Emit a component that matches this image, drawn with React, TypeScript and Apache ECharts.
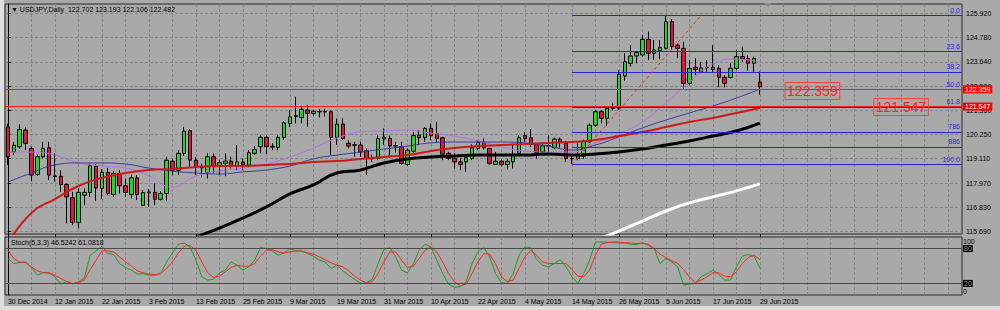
import React, { useEffect, useRef } from "react";
import * as echarts from "echarts";

const FONT = "'Liberation Sans', Arial, 'DejaVu Sans', sans-serif";

const dateLabels = [
  "30 Dec 2014", "12 Jan 2015", "22 Jan 2015", "3 Feb 2015", "13 Feb 2015", "25 Feb 2015",
  "9 Mar 2015", "19 Mar 2015", "31 Mar 2015", "10 Apr 2015", "22 Apr 2015", "4 May 2015",
  "14 May 2015", "26 May 2015", "5 Jun 2015", "17 Jun 2015", "29 Jun 2015",
];
const priceTicks = [115.69, 116.83, 117.97, 119.11, 120.25, 121.36, 122.5, 123.64, 124.78, 125.92];
const stochTicks = [0, 20, 80, 100];

const opens = [
  120.60, 119.43, 119.67, 120.45, 119.59, 118.37, 119.20, 119.62, 118.30, 118.29,
  117.90, 117.28, 116.12, 117.40, 117.53, 118.76, 117.72, 118.47, 117.43, 118.42,
  117.84, 117.43, 118.21, 116.93, 117.50, 117.53, 117.21, 117.48, 118.99, 118.57,
  119.36, 120.42, 119.04, 118.68, 118.45, 119.20, 118.76, 118.89, 118.99, 118.76,
  118.95, 118.81, 119.36, 119.67, 120.11, 119.65, 119.64, 120.11, 120.76, 121.09,
  121.04, 121.39, 121.23, 121.30, 121.32, 121.31, 120.11, 120.73, 119.83, 119.76,
  119.75, 119.48, 119.10, 119.13, 120.03, 120.06, 119.72, 119.67, 118.84, 119.46,
  120.22, 120.09, 120.53, 120.29, 120.09, 119.36, 119.12, 118.96, 118.96, 119.12,
  119.59, 119.87, 119.59, 118.84, 118.99, 118.84, 118.96, 119.36, 120.19, 120.09,
  119.78, 119.43, 119.70, 119.62, 120.03, 119.83, 119.10, 119.12, 119.23, 119.90,
  120.68, 121.31, 121.00, 121.46, 121.47, 122.98, 123.58, 123.92, 123.97, 124.70,
  124.05, 124.17, 124.28, 125.53, 124.43, 124.28, 122.64, 123.39, 123.18, 123.36,
  123.29, 123.34, 122.92, 122.92, 123.34, 123.89, 123.81, 123.58, 122.702,
];
const closes = [
  119.20, 119.74, 120.48, 119.83, 118.34, 119.20, 119.59, 118.34, 118.27, 117.90,
  117.32, 116.12, 117.53, 117.53, 118.78, 117.74, 118.47, 117.48, 118.42, 117.84,
  117.53, 118.21, 117.43, 117.53, 117.55, 117.21, 117.48, 119.04, 118.57, 119.36,
  120.40, 119.04, 118.73, 118.72, 119.20, 118.76, 118.92, 119.00, 118.76, 118.96,
  118.81, 119.39, 119.54, 120.11, 119.67, 119.69, 120.11, 120.79, 121.07, 121.13,
  121.42, 121.23, 121.33, 121.32, 121.30, 120.11, 120.73, 120.06, 119.70, 119.74,
  119.43, 119.12, 119.14, 120.05, 120.12, 119.71, 119.70, 118.89, 119.51, 120.19,
  120.09, 120.53, 120.19, 120.06, 119.32, 119.12, 118.96, 118.84, 119.15, 119.62,
  119.87, 119.62, 118.89, 118.99, 118.84, 118.99, 119.31, 120.09, 120.06, 119.78,
  119.40, 119.71, 119.72, 120.03, 119.90, 119.12, 119.12, 119.28, 119.93, 120.68,
  121.31, 121.00, 121.47, 121.48, 123.07, 123.65, 123.92, 124.08, 124.70, 124.05,
  124.20, 124.31, 125.53, 124.36, 124.28, 122.64, 123.34, 123.29, 123.36, 123.38,
  123.39, 122.92, 122.64, 123.34, 123.89, 123.78, 123.58, 123.81, 122.482,
];
const lows = [
  118.81, 119.28, 119.59, 119.51, 118.06, 118.30, 119.12, 118.10, 118.03, 117.56,
  116.08, 115.99, 115.84, 116.93, 117.32, 117.12, 117.21, 117.40, 117.32, 117.48,
  117.32, 117.25, 117.17, 116.90, 116.85, 116.93, 117.15, 117.12, 118.34, 118.34,
  119.24, 118.73, 118.34, 118.23, 118.18, 118.42, 118.34, 118.29, 118.65, 118.57,
  118.57, 118.70, 119.28, 119.36, 119.32, 119.51, 119.50, 119.98, 120.60, 120.76,
  120.76, 120.60, 121.10, 121.04, 121.08, 119.28, 119.75, 119.98, 119.59, 119.20,
  119.20, 118.34, 118.95, 119.04, 119.75, 119.15, 119.40, 118.81, 118.78, 119.36,
  119.75, 119.90, 119.98, 119.90, 119.04, 119.04, 118.65, 118.57, 118.49, 119.04,
  119.51, 119.54, 118.81, 118.81, 118.75, 118.60, 118.65, 119.31, 119.90, 119.67,
  119.12, 119.35, 119.43, 119.55, 119.62, 118.96, 118.86, 119.04, 119.10, 119.83,
  120.60, 120.76, 120.64, 121.39, 121.40, 122.76, 123.42, 123.58, 123.89, 123.73,
  123.73, 123.76, 124.23, 124.23, 123.81, 122.36, 122.56, 123.03, 123.11, 123.18,
  123.18, 122.45, 122.45, 122.87, 123.26, 123.65, 123.23, 123.18, 122.106,
];
const highs = [
  120.75, 119.90, 120.72, 120.60, 119.67, 119.30, 119.90, 119.90, 119.37, 118.57,
  117.95, 117.56, 117.72, 117.72, 118.89, 118.84, 118.62, 118.68, 118.53, 118.57,
  118.18, 118.37, 118.34, 117.64, 117.68, 117.95, 117.58, 119.20, 119.12, 119.51,
  120.60, 120.50, 119.20, 118.89, 119.36, 119.36, 119.04, 119.36, 119.20, 119.75,
  119.12, 119.51, 119.70, 120.22, 120.22, 119.83, 120.20, 120.88, 121.39, 122.01,
  121.54, 121.62, 121.40, 121.42, 121.45, 121.39, 121.00, 121.00, 119.98, 119.90,
  119.90, 119.59, 119.30, 120.22, 120.53, 120.19, 119.90, 119.90, 119.59, 120.37,
  120.45, 120.60, 120.76, 120.84, 120.14, 119.43, 119.36, 119.12, 119.31, 119.78,
  119.98, 120.06, 119.62, 119.43, 119.08, 119.10, 119.75, 120.22, 120.35, 120.50,
  119.83, 119.80, 120.22, 120.10, 120.10, 119.93, 119.23, 119.90, 120.00, 120.76,
  121.39, 121.39, 121.54, 121.73, 123.26, 124.05, 124.43, 124.12, 124.90, 125.06,
  124.67, 124.67, 125.80, 125.64, 124.51, 124.59, 123.73, 123.81, 123.65, 123.73,
  124.43, 123.50, 123.03, 123.58, 124.20, 124.36, 123.97, 123.89, 123.193,
];

// Moving averages read every 4 bars
const maPurple = [
  119.42, 119.42, 119.28, 118.91, 118.77, 118.67, 118.30, 117.78, 118.30, 118.53,
  118.67, 118.86, 119.19, 119.61, 120.08, 120.36, 120.41, 120.45, 120.31, 120.17,
  119.94, 119.66, 119.47, 119.42, 119.42, 119.85, 120.27, 120.83, 121.72, 122.70,
  123.55, 123.78, 123.64,
];
const maNavy = [
  118.02, 118.44, 118.82, 118.91, 118.91, 118.86, 118.67, 118.53, 118.44, 118.39,
  118.49, 118.58, 118.77, 119.10, 119.28, 119.42, 119.56, 119.70, 119.85, 119.89,
  119.89, 119.89, 119.85, 119.70, 119.52, 119.75, 120.13, 120.55, 120.92, 121.25,
  121.58, 121.95, 122.37,
];
const maRed = [
  115.16, 116.57, 117.22, 117.83, 118.21, 118.44, 118.58, 118.63, 118.72, 118.77,
  118.77, 118.82, 118.86, 118.96, 119.00, 119.10, 119.19, 119.28, 119.47, 119.61,
  119.70, 119.75, 119.80, 119.85, 119.89, 119.99, 120.17, 120.36, 120.59, 120.83,
  121.02, 121.25, 121.48,
];
const maBlack = [
  114.97, 115.44, 115.86, 116.33, 116.85, 117.46, 117.88, 118.44, 118.58, 118.91,
  119.10, 119.19, 119.24, 119.28, 119.28, 119.28, 119.33, 119.28, 119.33, 119.42,
  119.56, 119.75, 119.94, 120.17, 120.41, 120.78,
];
const maWhite = [115.30, 115.72, 116.19, 116.66, 117.04, 117.32, 117.60, 117.93];

const stochK = [
  62.9, 54, 56, 57, 47.4, 34, 39, 38, 31.4, 19,
  23, 19, 23, 28.6, 68.6, 76, 84, 71.4, 70, 54,
  47.4, 42.9, 36, 37, 34, 34, 37, 57, 72.6, 87.4,
  89.7, 82.9, 60, 31.4, 25.7, 27, 38, 42.9, 57, 51.4,
  42.9, 48.6, 60, 81.7, 80, 76, 68.6, 72.6, 80, 76,
  76, 71.4, 66.9, 60, 57, 45.7, 51.4, 41.7, 34, 27,
  20, 21, 27, 54, 78.3, 81.7, 65.7, 42.9, 38, 54,
  77, 87.4, 82.9, 60, 37, 19, 13, 14.3, 23, 54,
  74.3, 81.7, 65.7, 37, 21, 20, 37, 68.6, 82.9, 81.7,
  61, 51.4, 48.6, 54, 61, 48.6, 31.4, 20, 37, 60,
  91.4, 91.4, 90.9, 90.3, 89.7, 89.7, 87.4, 86.9, 89.7, 85.7,
  80, 54, 62.9, 57, 48.6, 17, 19, 20, 31.4, 37,
  42.9, 35.4, 25.7, 25.7, 48.6, 66.9, 69.7, 66.9, 46.52,
];
const stochD = [
  77, 62.9, 57, 56, 48.6, 41.7, 38.3, 38.3, 34, 28.6,
  23, 20, 21, 25.7, 44, 60, 76, 76, 74.3, 65.7,
  57, 49.7, 41.7, 38.3, 36, 35.4, 37, 45.7, 57, 72.6,
  84, 85.7, 77, 57, 38.3, 30.3, 32.6, 40, 47.4, 51.4,
  49.7, 49.7, 54.3, 66.9, 77, 78.3, 74.3, 72.6, 74.3, 76,
  76, 72.6, 70.3, 65.7, 61, 55.4, 51.4, 48.6, 41.7, 32.6,
  25.7, 21, 23, 37, 57, 74.3, 74.3, 60, 47.4, 49.7,
  62.9, 77, 82.9, 74.3, 57, 37, 23, 15.7, 19, 37,
  57, 71.4, 70.3, 54, 31.4, 23, 25.7, 45.7, 65.7, 77,
  68.6, 57, 54.3, 54.3, 54.3, 54.3, 44, 32.6, 31.4, 42.9,
  68.6, 87.4, 90.3, 91.4, 91.4, 90.3, 89.7, 88.6, 89.7, 87.4,
  80, 70.3, 64.6, 58.9, 54.3, 44, 31.4, 21, 25.7, 31.4,
  38.3, 38.3, 32.6, 31.4, 40, 54.3, 64.6, 68.6, 61.08,
];

const fibNames = ["0.0", "23.6", "38.2", "50.0", "61.8", "786", "886", "100.0"];
const fibPrices = [125.817, 124.13, 123.148, 122.35, 121.508, 120.337, 119.634, 118.836];
const fibStartBar = 96;
const fibEndBar = 118;
const redLevels = ["122.359", "121.547"];
const lastPrice = "122.482";
const bigLabels = [
  { name: "122.359", bar: 132.2, price: 122.28 },
  { name: "121.547", bar: 147.3, price: 121.53 },
];

const X_MIN = -0.5;
const X_MAX = 162.4;
const GRID_COLOR = "#858585";
const FIB_BLUE = "#2525d5";

export default function App() {
  const ref = useRef<HTMLDivElement>(null);

  useEffect(() => {
    if (!ref.current) return;
    const chart = echarts.init(ref.current, undefined, { renderer: "svg" });

    const bars = opens.map((o, i) => [i, o, closes[i], lows[i], highs[i]]);
    const ma = (vals: number[], start: number) => vals.map((v, k) => [start + k * 4, v]);
    const gridCols: number[] = [];
    for (let i = 0; i <= 160; i += 4) gridCols.push(i);
    const labelBars = dateLabels.map((_, k) => k * 8);
    const kData = stochK.map((v, i) => [i, v]);
    const dData = stochD.map((v, i) => [i, v]);

    const dashed = { color: GRID_COLOR, type: [3, 2] as any, width: 1 };
    const xCommon = { type: "value", min: X_MIN, max: X_MAX, axisLine: { show: false } };
    const fibLineStyle = { color: FIB_BLUE, width: 1, type: "solid", opacity: 1 };

    const option: any = {
      animation: false,
      backgroundColor: "#a9a9a9",
      textStyle: { fontFamily: FONT },
      title: [
        {
          text: "▼ USDJPY,Daily  122.702 123.193 122.106 122.482",
          left: 11, top: 6, padding: 0,
          textStyle: { fontSize: 7, fontWeight: "normal", color: "#000", fontFamily: FONT },
        },
        {
          text: "Stoch(5,3,3) 46.5242 61.0818",
          left: 11, top: 239, padding: 0,
          textStyle: { fontSize: 7, fontWeight: "normal", color: "#000", fontFamily: FONT },
        },
      ],
      grid: [
        { left: 5, top: 4, width: 957, height: 230, show: true, borderColor: "#2b2b2b", borderWidth: 1 },
        { left: 5, top: 237, width: 957, height: 58, show: true, borderColor: "#2b2b2b", borderWidth: 1 },
      ],
      xAxis: [
        {
          ...xCommon, gridIndex: 0,
          axisTick: { show: false, customValues: gridCols },
          axisLabel: { show: false },
          splitLine: { show: true, lineStyle: dashed },
        },
        {
          ...xCommon, gridIndex: 1,
          axisTick: { show: false, customValues: gridCols },
          axisLabel: {
            show: true, customValues: labelBars,
            formatter: (v: number) => dateLabels[Math.round(v / 8)] ?? "",
            align: "left", margin: 3, fontSize: 7, color: "#000", fontFamily: FONT,
          },
          splitLine: { show: true, lineStyle: dashed },
        },
        {
          ...xCommon, gridIndex: 1,
          axisTick: { show: true, customValues: labelBars, length: 3, lineStyle: { color: "#000" } },
          axisLabel: { show: false },
          splitLine: { show: false },
        },
      ],
      yAxis: [
        {
          type: "value", gridIndex: 0, position: "right", min: 115.582, max: 126.356,
          axisLine: { show: true, lineStyle: { color: "#000" } },
          axisTick: { show: true, customValues: priceTicks, length: 3, lineStyle: { color: "#000" } },
          axisLabel: {
            customValues: priceTicks, formatter: (v: number) => v.toFixed(3),
            fontSize: 7, color: "#000", margin: 4, fontFamily: FONT,
          },
          splitLine: { show: true, lineStyle: dashed },
        },
        {
          type: "value", gridIndex: 1, position: "right", min: 0, max: 100,
          axisLine: { show: true, lineStyle: { color: "#000" } },
          axisTick: { show: false, customValues: stochTicks },
          axisLabel: {
            customValues: stochTicks, margin: 1, fontSize: 7, color: "#000", fontFamily: FONT,
            formatter: (v: number) => (v === 100 ? "{t|100}" : v === 0 ? "{b|0}" : `{k|${v}}`),
            rich: {
              t: { padding: [8, 0, 0, 0], fontSize: 7, color: "#000" },
              b: { padding: [0, 0, 8, 0], fontSize: 7, color: "#000" },
              k: { backgroundColor: "#000", color: "#9a9a9a", fontSize: 7, padding: [0, 1, 0, 1] },
            },
          },
          splitLine: { show: false },
        },
      ],
      series: [
        {
          name: "fib", type: "line", xAxisIndex: 0, yAxisIndex: 0, data: [], z: 1,
          markLine: {
            silent: true, symbol: ["none", "none"], animation: false,
            lineStyle: fibLineStyle,
            emphasis: { disabled: true },
            label: { show: true, position: "insideEndTop", formatter: "{b}", color: "#2a2ad4", fontSize: 7, distance: 2, fontFamily: FONT },
            data: [
              ...fibNames.map((n, k) => [
                { coord: [fibStartBar, fibPrices[k]], name: n, lineStyle: fibLineStyle },
                { coord: [X_MAX, fibPrices[k]] },
              ]),
              [
                {
                  coord: [fibStartBar, fibPrices[fibPrices.length - 1]],
                  lineStyle: { color: "#ff2020", type: [3, 3], width: 1 },
                  label: { show: false },
                },
                { coord: [fibEndBar, fibPrices[0]] },
              ],
            ],
          },
        },
        {
          name: "USDJPY", type: "candlestick", xAxisIndex: 0, yAxisIndex: 0,
          data: bars, encode: { x: 0, y: [1, 2, 3, 4] }, barWidth: 4, z: 2,
          itemStyle: { color: "#22d922", color0: "#e0163c", borderColor: "#000", borderColor0: "#000", borderWidth: 1 },
          markPoint: {
            silent: true, symbol: "circle", symbolSize: 1, itemStyle: { color: "rgba(0,0,0,0)" },
            label: {
              show: true, position: "right", distance: 0, formatter: "{b}",
              fontSize: 14, color: "#ff2424", borderColor: "#ff4040", borderWidth: 1,
              padding: [2, 2, 1, 2], fontFamily: FONT,
            },
            data: bigLabels.map((b) => ({ name: b.name, coord: [b.bar, b.price] })),
          },
        },
        { name: "maPurple", type: "line", xAxisIndex: 0, yAxisIndex: 0, data: ma(maPurple, 0), smooth: true, showSymbol: false, z: 3, lineStyle: { color: "#b86ee0", width: 1 } },
        { name: "maNavy", type: "line", xAxisIndex: 0, yAxisIndex: 0, data: ma(maNavy, 0), smooth: true, showSymbol: false, z: 3, lineStyle: { color: "#3b3b9e", width: 1 } },
        { name: "maRed", type: "line", xAxisIndex: 0, yAxisIndex: 0, data: ma(maRed, 0), smooth: true, showSymbol: false, z: 3, lineStyle: { color: "#cc1a1a", width: 2 } },
        { name: "maBlack", type: "line", xAxisIndex: 0, yAxisIndex: 0, data: ma(maBlack, 28), smooth: true, showSymbol: false, z: 3, lineStyle: { color: "#000", width: 3 } },
        { name: "maWhite", type: "line", xAxisIndex: 0, yAxisIndex: 0, data: ma(maWhite, 100), smooth: true, showSymbol: false, z: 3, lineStyle: { color: "#fff", width: 3 } },
        {
          name: "last", type: "line", xAxisIndex: 0, yAxisIndex: 0, data: [], z: 4,
          markLine: {
            silent: true, symbol: ["none", "none"],
            lineStyle: { opacity: 0 },
            label: { show: true, position: "end", distance: 1, formatter: "{b}", backgroundColor: "#000", color: "#fff", fontSize: 7, padding: [1, 2, 0, 2], fontFamily: FONT },
            data: [{ yAxis: Number(lastPrice), name: lastPrice }],
          },
        },
        {
          name: "levels", type: "line", xAxisIndex: 0, yAxisIndex: 0, data: [], z: 5,
          markLine: {
            silent: true, symbol: ["none", "none"],
            lineStyle: { color: "#ff1a1a", width: 1, type: "solid" },
            label: { show: true, position: "end", distance: 1, formatter: "{b}", backgroundColor: "#ff0000", color: "#fff", fontSize: 7, padding: [1, 2, 0, 2], fontFamily: FONT },
            data: redLevels.map((v) => ({ yAxis: Number(v), name: v })),
          },
        },
        {
          name: "%K", type: "line", xAxisIndex: 1, yAxisIndex: 1, data: kData, showSymbol: false,
          lineStyle: { color: "#239a23", width: 1 },
          markLine: {
            silent: true, symbol: ["none", "none"], label: { show: false },
            lineStyle: { color: "#4a4a4a", width: 1.2, type: "solid" },
            data: [{ yAxis: 80 }, { yAxis: 20 }],
          },
        },
        { name: "%D", type: "line", xAxisIndex: 1, yAxisIndex: 1, data: dData, showSymbol: false, lineStyle: { color: "#ff2424", width: 1 } },
      ],
      graphic: [
        { type: "rect", left: 0, top: 0, shape: { width: 4, height: 310 }, style: { fill: "#dedede" }, silent: true },
        { type: "rect", left: 0, top: 306, shape: { width: 1000, height: 4 }, style: { fill: "#dedede" }, silent: true },
        { type: "polygon", shape: { points: [[764, 3], [772, 3], [768, 7]] }, style: { fill: "#8a8a8a" }, silent: true },
      ],
    };

    chart.setOption(option);
    return () => chart.dispose();
  }, []);

  return (
    <div
      ref={ref}
      style={{ position: "absolute", left: 0, top: 0, width: 1000, height: 310 }}
    />
  );
}
